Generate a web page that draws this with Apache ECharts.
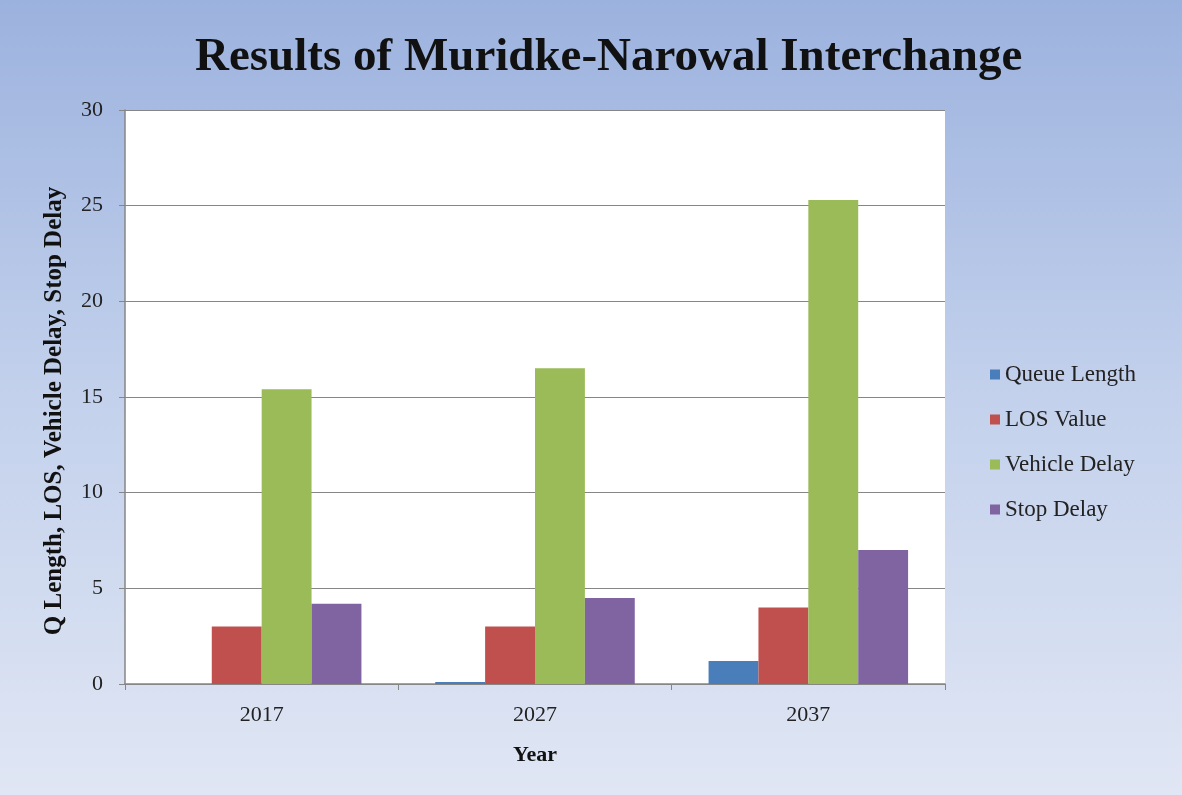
<!DOCTYPE html>
<html><head><meta charset="utf-8">
<script src="https://cdn.jsdelivr.net/npm/echarts@6/dist/echarts.min.js"></script>
<style>html,body{margin:0;padding:0;background:#fff}#c{width:1182px;height:795px}</style>
</head><body><div id="c"></div>
<script>
const categories = ['2017', '2027', '2037'];
const queueLength = [0, 0.1, 1.2];
const losValue = [3, 3, 4];
const vehicleDelay = [15.4, 16.5, 25.3];
const stopDelay = [4.2, 4.5, 7.0];
const seriesNames = ['Queue Length', 'LOS Value', 'Vehicle Delay', 'Stop Delay'];
const seriesColors = ['#4a7ebb', '#c0504d', '#9bbb59', '#8064a2'];
const seriesData = [queueLength, losValue, vehicleDelay, stopDelay];

const font = 'Liberation Serif, Times New Roman, serif';
const chart = echarts.init(document.getElementById('c'));
chart.setOption({
  backgroundColor: new echarts.graphic.LinearGradient(0, 0, 0, 1, [
    {offset: 0, color: '#9cb2de'},
    {offset: 0.5, color: '#c3d1ec'},
    {offset: 1, color: '#e0e6f4'}
  ]),
  title: {
    text: 'Results of Muridke-Narowal Interchange',
    left: 190, top: 29,
    textStyle: {fontFamily: font, fontWeight: 'bold', fontSize: 47, color: '#111'}
  },
  legend: {
    orient: 'vertical', left: 985, top: 358,
    itemWidth: 10, itemHeight: 10, itemGap: 22, icon: 'rect',
    textStyle: {fontFamily: font, fontSize: 23, color: '#222'},
    data: seriesNames
  },
  grid: {left: 125, right: 237, top: 110, bottom: 111, show: true, backgroundColor: '#fff', borderWidth: 0},
  xAxis: {
    type: 'category', data: categories,
    name: 'Year', nameLocation: 'middle', nameGap: 60,
    nameTextStyle: {fontFamily: font, fontWeight: 'bold', fontSize: 22, color: '#111'},
    axisLine: {lineStyle: {color: '#868686', width: 1.5}},
    axisTick: {show: true, length: 6, lineStyle: {color: '#868686'}},
    axisLabel: {fontFamily: font, fontSize: 22, color: '#222', margin: 20}
  },
  yAxis: {
    type: 'value', min: 0, max: 30, interval: 5,
    name: 'Q Length, LOS, Vehicle Delay, Stop Delay', nameLocation: 'middle', nameGap: 58,
    nameTextStyle: {fontFamily: font, fontWeight: 'bold', fontSize: 25, color: '#111', padding: [0, 28, 0, 0]},
    axisLine: {show: true, lineStyle: {color: '#868686', width: 1.5}},
    axisTick: {show: true, length: 6, lineStyle: {color: '#868686'}},
    axisLabel: {fontFamily: font, fontSize: 22, color: '#222', margin: 22},
    splitLine: {lineStyle: {color: '#868686', width: 1.2}}
  },
  series: seriesNames.map((n, i) => ({
    name: n, type: 'bar', data: seriesData[i],
    barGap: '0%', barCategoryGap: '27%',
    itemStyle: {color: seriesColors[i]},
    animation: false
  }))
});
</script></body></html>
